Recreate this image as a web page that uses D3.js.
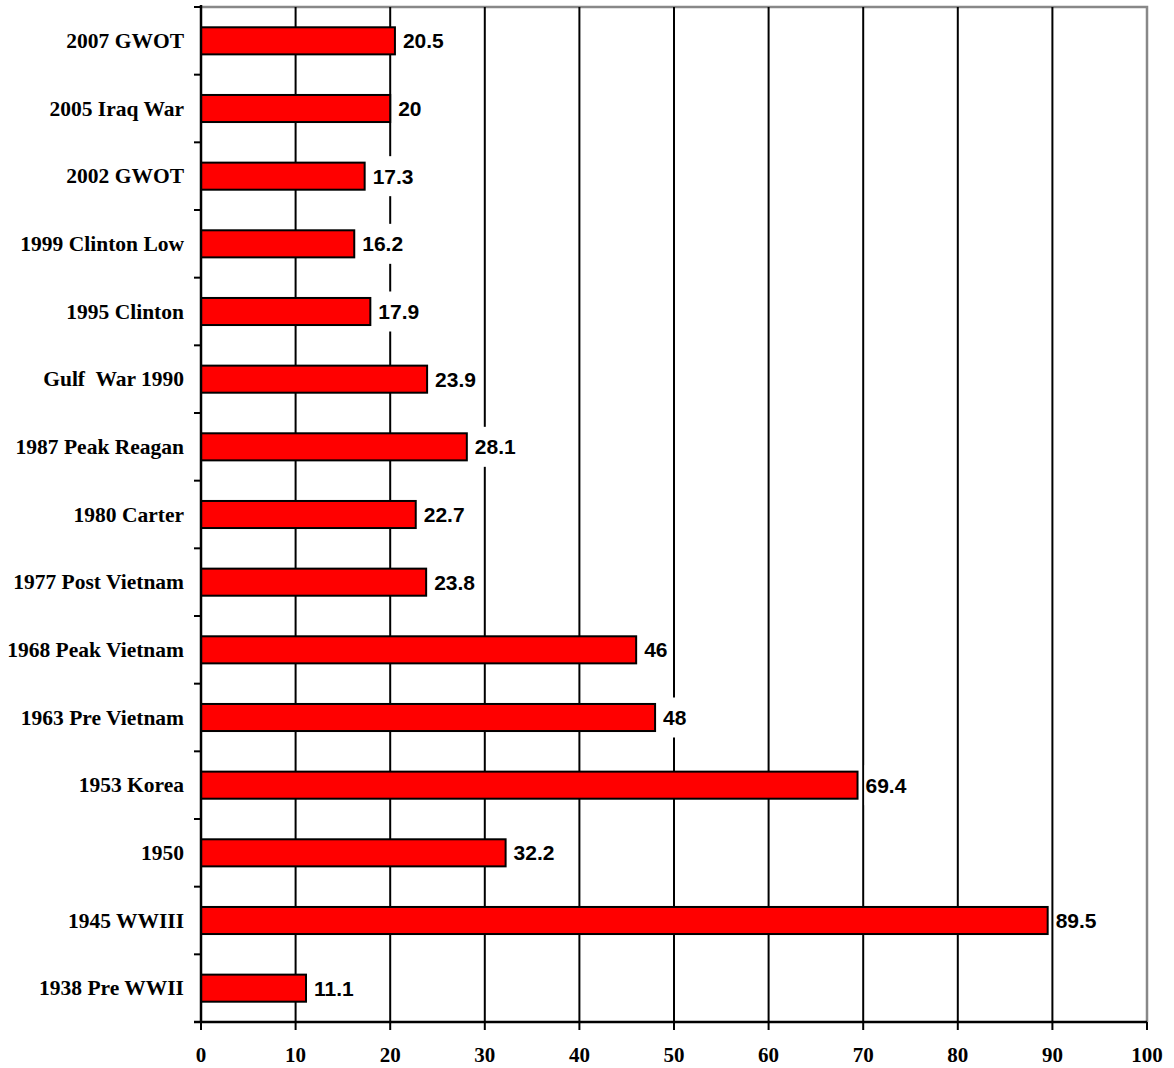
<!DOCTYPE html>
<html><head><meta charset="utf-8">
<script src="https://cdn.jsdelivr.net/npm/d3@7"></script>
<style>body{margin:0;background:#fff}</style>
</head><body>
<script>
const categories = ["2007 GWOT","2005 Iraq War","2002 GWOT","1999 Clinton Low","1995 Clinton","Gulf  War 1990","1987 Peak Reagan","1980 Carter","1977 Post Vietnam","1968 Peak Vietnam","1963 Pre Vietnam","1953 Korea","1950","1945 WWIII","1938 Pre WWII"];
const values = [20.5,20,17.3,16.2,17.9,23.9,28.1,22.7,23.8,46,48,69.4,32.2,89.5,11.1];
const xTicks = [0,10,20,30,40,50,60,70,80,90,100];

const W=1174,H=1068;
const svg=d3.select("body").append("svg").attr("width",W).attr("height",H);
const L=201,R=1147,T=7,B=1022;
const x=d3.scaleLinear().domain([0,100]).range([L,R]);
const y=d3.scaleBand().domain(categories).range([T,B]).padding(0);
const bw=y.bandwidth(), bh=bw*0.4;

// plot border (gray top/right)
svg.append("path").attr("d",`M${L},${T}H${R}V${B}`).attr("fill","none").attr("stroke","#888").attr("stroke-width",2.5);
// gridlines
svg.append("g").selectAll("line").data(xTicks.filter(d=>d>0&&d<100)).join("line")
  .attr("x1",d=>x(d)).attr("x2",d=>x(d)).attr("y1",T).attr("y2",B)
  .attr("stroke","#000").attr("stroke-width",2);

// bars
svg.append("g").selectAll("rect").data(values).join("rect")
  .attr("x",x(0)).attr("y",(d,i)=>y(categories[i])+(bw-bh)/2)
  .attr("width",d=>x(d)-x(0)).attr("height",bh)
  .attr("fill","#ff0000").attr("stroke","#000").attr("stroke-width",2);

// value labels with white background
const lg=svg.append("g");
values.forEach((v,i)=>{
  const cy=y(categories[i])+bw/2;
  const g=lg.append("g");
  const bg=g.append("rect").attr("fill","#fff");
  const t=g.append("text").attr("x",x(v)+8).attr("y",cy+7.5)
    .attr("font-family","Liberation Sans, Arial, sans-serif").attr("font-weight","bold")
    .attr("font-size",21).attr("fill","#000").text(v);
  const bb=t.node().getBBox();
  bg.attr("x",bb.x-1).attr("y",cy-20).attr("width",bb.width+3).attr("height",40);
});

// y axis
const ya=svg.append("g");
ya.append("line").attr("x1",L).attr("x2",L).attr("y1",T-2).attr("y2",B).attr("stroke","#000").attr("stroke-width",2.5);
const bounds=categories.map(c=>y(c)).concat([B]);
ya.selectAll("line.tk").data(bounds).join("line").attr("class","tk")
  .attr("x1",L-7).attr("x2",L).attr("y1",d=>d).attr("y2",d=>d).attr("stroke","#000").attr("stroke-width",2);
ya.selectAll("text").data(categories).join("text")
  .attr("x",184).attr("y",d=>y(d)+bw/2+7)
  .attr("text-anchor","end").attr("font-family","Liberation Serif, Times New Roman, serif")
  .attr("font-weight","bold").attr("font-size",21.5).attr("fill","#000")
  .style("white-space","pre").attr("xml:space","preserve").text(d=>d);

// x axis
const xa=svg.append("g");
xa.append("line").attr("x1",L-7).attr("x2",R).attr("y1",B).attr("y2",B).attr("stroke","#000").attr("stroke-width",2.5);
xa.selectAll("line.tk").data(xTicks).join("line").attr("class","tk")
  .attr("x1",d=>x(d)).attr("x2",d=>x(d)).attr("y1",B).attr("y2",B+8).attr("stroke","#000").attr("stroke-width",2);
xa.selectAll("text").data(xTicks).join("text")
  .attr("x",d=>x(d)).attr("y",1062).attr("text-anchor","middle")
  .attr("font-family","Liberation Serif, Times New Roman, serif").attr("font-weight","bold")
  .attr("font-size",21).attr("fill","#000").text(d=>d);
</script>
</body></html>
